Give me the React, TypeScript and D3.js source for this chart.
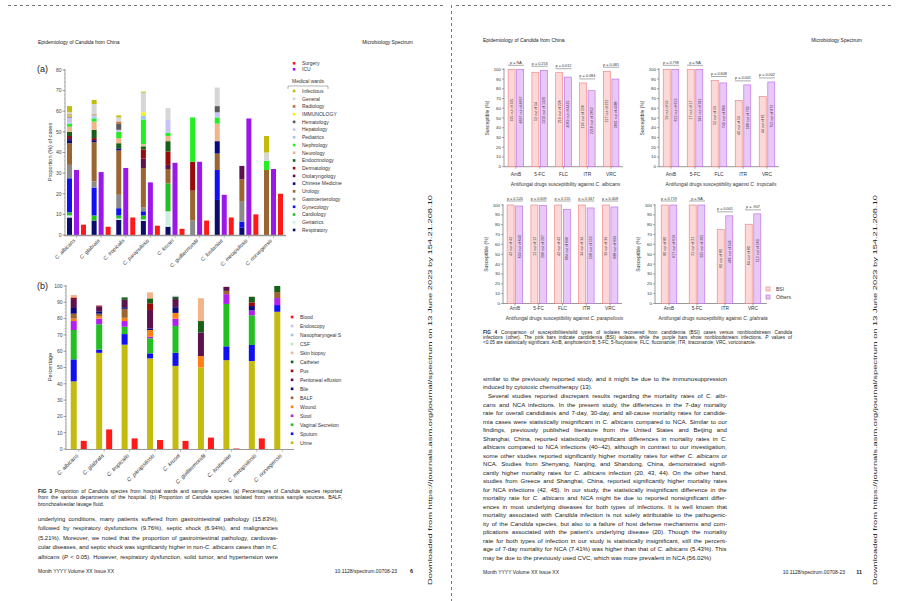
import React from 'react';
import * as d3 from 'd3';

const F = "'Liberation Sans', Arial, sans-serif";

// ---------------- Panel (a): hospital wards ----------------
const species = ['C. albicans', 'C. glabrata', 'C. tropicalis', 'C. parapsilosis', 'C. krusei', 'C. guilliermondii', 'C. lusitaniae', 'C. metapsilosis', 'C. norvegensis'];

const wardNames = ['Infectious', 'General', 'Radiology', 'IMMUNOLOGY', 'Hematology', 'Hepatology', 'Pediatrics', 'Nephrology', 'Neurology', 'Endocrinology', 'Dermatology', 'Otolaryngology', 'Chinese Medicine', 'Urology', 'Gastroenterology', 'Gynecology', 'Cardiology', 'Geriatrics', 'Respiratory'];
const wardColors = ['#c4bb10', '#d6d6d6', '#cc6633', '#f5f500', '#5a5a5a', '#c4c4f6', '#9cc8f0', '#22ee22', '#f2b489', '#17601a', '#9a0a0a', '#5c124f', '#0a0a80', '#9a6530', '#8a8a8a', '#1010f0', '#22c022', '#cdeee0', '#0c0c6a'];

const infectious = [3, 2, 1, 0.5, 0, 0, 0, 0, 8];
const general = [1, 5, 2, 9.5, 5.5, 0, 9, 0, 4];
const radiology = [0.5, 0.5, 1, 0, 0, 0, 0, 0, 0];
const immunology = [0.5, 0, 0, 1.5, 0, 0, 0, 0, 0];
const hematology = [0.5, 0, 3, 0, 0, 0, 3, 0, 0];
const hepatology = [2.5, 0.5, 1, 0, 6.5, 0, 2.5, 0, 0];
const pediatrics = [0.5, 1, 0, 2, 0, 0, 0, 0, 0];
const nephrology = [1.5, 1.5, 3, 12, 1.5, 21.5, 3, 0, 4.5];
const neurology = [2.5, 4, 2.5, 1, 2.5, 0, 8.5, 0, 0];
const endocrinology = [2, 4, 2.5, 1.5, 5, 0, 0, 0, 0];
const dermatology = [1, 1, 0, 4.5, 6.5, 14, 0, 0, 0];
const otolaryngology = [1, 0, 0, 4.5, 2, 0, 0, 6.5, 0];
const chineseMedicine = [1.5, 1, 1, 0, 0, 0, 6, 0, 0];
const urology = [10.5, 19, 21.5, 19, 7, 14.5, 8, 10.5, 31.5];
const gastroenterology = [6.5, 3, 6.5, 2, 0, 7, 0, 10, 0];
const gynecology = [16.5, 13.5, 3.5, 2, 0, 0, 14.5, 3, 0];
const cardiology = [1.5, 2.5, 1.5, 2, 13.5, 0, 0, 0, 0];
const geriatrics = [1, 0, 0.7, 0.7, 7.5, 0, 0, 0, 0];
const respiratory = [8.5, 7, 7.3, 6.8, 4, 0, 17, 3.5, 0];
const wardSeries = [infectious, general, radiology, immunology, hematology, hepatology, pediatrics, nephrology, neurology, endocrinology, dermatology, otolaryngology, chineseMedicine, urology, gastroenterology, gynecology, cardiology, geriatrics, respiratory];

const icu = [31.5, 30.5, 32.5, 25.5, 35, 35.5, 19.5, 56.5, 32];
const surgery = [5, 4, 8.5, 4.5, 3, 7, 8.5, 10, 20];
const ticksA = [0, 10, 20, 30, 40, 50, 60, 70, 80];

// ---------------- Panel (b): sample sources ----------------
const sampleNames = ['Blood', 'Endoscopy', 'Nasopharyngeal S', 'CSF', 'Skin biopsy', 'Catheter', 'Pus', 'Peritoneal effusion', 'Bile', 'BALF', 'Wound', 'Stool', 'Vaginal Secretion', 'Sputum', 'Urine'];
const sampleColors = ['#ff1010', '#c4c4f6', '#9cc8f0', '#a6f5a6', '#f2b489', '#17601a', '#9a0a0a', '#5c124f', '#0a0a80', '#9a6530', '#ff8010', '#b020f0', '#22c022', '#1010f0', '#c4bb10'];

const blood = [5, 12, 6.5, 5.5, 5, 7, 0.3, 6.5, 0];
const endoscopy = [0, 0, 0, 0, 0.5, 0, 0, 0, 0];
const nasopharyngeal = [0, 0, 0, 0, 0, 0, 0, 0, 0];
const csf = [0, 0, 0, 0, 0, 0, 0, 0, 0];
const skinBiopsy = [1.5, 0, 0, 3.7, 0, 14, 0, 0, 0];
const catheter = [0, 0, 1.5, 3, 1.5, 7, 0, 3.4, 3.7];
const pus = [1, 0.5, 0, 4.1, 0, 0, 0, 2.3, 0];
const peritoneal = [5.5, 3, 4.5, 11.3, 5, 14.5, 2.5, 0, 0];
const bile = [3.5, 1.5, 1, 1, 3.5, 0, 0, 2.7, 0];
const balf = [3, 1.5, 5.5, 0, 0, 0, 2, 0, 3.7];
const wound = [1.5, 1.5, 2, 4.1, 3.5, 7, 0, 0, 0];
const stool = [5.5, 3.5, 3.5, 1, 4.5, 0, 6, 3, 4.3];
const vaginal = [18, 15.5, 4.5, 9.2, 16.5, 0, 26, 18.2, 0];
const sputum = [13.5, 2, 6.5, 3.1, 8, 0, 8.5, 9.8, 4.1];
const urine = [41.5, 59, 64, 55.6, 51, 50, 54.5, 54, 84.2];
const sampleSeries = [blood, endoscopy, nasopharyngeal, csf, skinBiopsy, catheter, pus, peritoneal, bile, balf, wound, stool, vaginal, sputum, urine];
const ticksB = [0, 10, 20, 30, 40, 50, 60, 70, 80, 90, 100];

// ---------------- Fig 4: susceptibility ----------------
const drugs = ['AmB', '5-FC', 'FLC', 'ITR', 'VRC'];
const drugsGlabrata = ['AmB', '5-FC', 'ITR', 'VRC'];
const ticksS = [0, 10, 20, 30, 40, 50, 60, 70, 80, 90, 100];

const albicansBSI = [100, 97, 96.5, 86, 98];
const albicansOthers = [100, 99, 92, 78, 90];
const albicansP = ['p = NA', 'p = 0.253', 'p = 0.012', 'p = 0.084', 'p = 0.081'];
const albicansBSILab = ['335 out of 335', '52 out of 54', '219 out of 226', '195 out of 226', '217 out of 221'];
const albicansOthLab = ['4697 out of 4697', '1310 out of 1320', '4062 out of 4425', '2218 out of 2852', '3891 out of 4388'];

const tropicalisBSI = [100, 100, 88.5, 68, 72];
const tropicalisOthers = [100, 100, 86, 84, 87];
const tropicalisP = ['p = 0.798', 'p = NA', 'p = 0.608', 'p = 0.001', 'p = 0.002'];
const tropicalisBSILab = ['59 out of 59', '17 out of 17', '52 out of 59', '40 out of 59', '44 out of 61'];
const tropicalisOthLab = ['612 out of 613', '241 out of 241', '749 out of 869', '588 out of 702', '752 out of 872'];

const parapsilosisBSI = [100, 100, 100, 100, 100];
const parapsilosisOthers = [99, 99.5, 95.5, 97, 98];
const parapsilosisP = ['p = 0.520', 'p = 0.609', 'p = 0.155', 'p = 0.347', 'p = 0.408'];
const parapsilosisBSILab = ['42 out of 42', '12 out of 12', '42 out of 42', '34 out of 34', '39 out of 39'];
const parapsilosisOthLab = ['634 out of 640', '206 out of 207', '664 out of 696', '538 out of 552', '688 out of 699'];

const glabrataBSI = [100, 100, 75, 80.5];
const glabrataOthers = [100, 100, 89, 91];
const glabrataP = ['p = 0.719', 'p = NA', 'p = 0.001', 'p = .907'];
const glabrataBSILab = ['80 out of 80', '21 out of 21', '60 out of 80', '64 out of 80'];
const glabrataOthLab = ['617 out of 619', '205 out of 205', '485 out of 545', '512 out of 563'];

// ---------------- Text ----------------
const captionLeft = [
  '**FIG 3** Proportion of *Candida* species from hospital wards and sample sources. (a) Percentages of *Candida* species reported',
  'from the various departments of the hospital. (b) Proportion of *Candida* species isolated from various sample sources. BALF,',
  'bronchoalveolar lavage fluid.',
];
const bodyLeft = [
  'underlying conditions, many patients suffered from gastrointestinal pathology (15.83%),',
  'followed by respiratory dysfunctions (9.76%), septic shock (6.94%), and malignancies',
  '(5.21%). Moreover, we noted that the proportion of gastrointestinal pathology, cardiovas-',
  'cular diseases, and septic shock was significantly higher in non-*C. albicans* cases than in *C.*',
  '*albicans* (*P* < 0.05). However, respiratory dysfunction, solid tumor, and hypertension were',
];
const captionRight = [
  '**FIG 4** Comparison of susceptibilities/wild types of isolates recovered from candidemia (BSI) cases versus nonbloodstream *Candida*',
  'infections (other). The pink bars indicate candidemia (BSI) isolates, while the purple bars show nonbloodstream infections. *P* values of',
  '<0.05 are statistically significant. AmB, amphotericin B; 5-FC, 5-flucytosine; FLC, fluconazole; ITR, itraconazole; VRC, voriconazole.',
];
const bodyRight = [
  'similar to the previously reported study, and it might be due to the immunosuppression',
  'induced by cytotoxic chemotherapy (13).',
  'Several studies reported discrepant results regarding the mortality rates of *C. albi-*',
  '*cans* and NCA infections. In the present study, the differences in the 7-day mortality',
  'rate for overall candidiasis and 7-day, 30-day, and all-cause mortality rates for candide-',
  'mia cases were statistically insignificant in *C. albicans* compared to NCA. Similar to our',
  'findings, previously published literature from the United States and Beijing and',
  'Shanghai, China, reported statistically insignificant differences in mortality rates in *C.*',
  '*albicans* compared to NCA infections (40–42), although in contrast to our investigation,',
  'some other studies reported significantly higher mortality rates for either *C. albicans* or',
  'NCA. Studies from Shenyang, Nanjing, and Shandong, China, demonstrated signifi-',
  'cantly higher mortality rates for *C. albicans* infection (20, 43, 44). On the other hand,',
  'studies from Greece and Shanghai, China, reported significantly higher mortality rates',
  'for NCA infections (42, 45). In our study, the statistically insignificant difference in the',
  'mortality rate for *C. albicans* and NCA might be due to reported nonsignificant differ-',
  'ences in most underlying diseases for both types of infections. It is well known that',
  'mortality associated with *Candida* infection is not solely attributable to the pathogenic-',
  'ity of the *Candida* species, but also to a failure of host defense mechanisms and com-',
  'plications associated with the patient\u2019s underlying disease (20). Though the mortality',
  'rate for both types of infection in our study is statistically insignificant, still the percent-',
  'age of 7-day mortality for NCA (7.41%) was higher than that of *C. albicans* (5.43%). This',
  'may be due to the previously used CVC, which was more prevalent in NCA (56.02%)',
];
const downloadNote = 'Downloaded from https://journals.asm.org/journal/spectrum on 13 June 2023 by 154.21.208.10';

// ---------- rich text helpers: **bold**, *italic* ----------
type Seg = { t: string; i: boolean; b: boolean };
function segs(s: string): Seg[] {
  const out: Seg[] = [];
  const re = /(\*\*[^*]+\*\*|\*[^*]+\*)/g;
  let last = 0;
  let m;
  while ((m = re.exec(s)) !== null) {
    if (m.index > last) out.push({ t: s.slice(last, m.index), i: false, b: false });
    const t = m[0];
    if (t.startsWith('**')) out.push({ t: t.slice(2, -2), i: false, b: true });
    else out.push({ t: t.slice(1, -1), i: true, b: false });
    last = m.index + t.length;
  }
  if (last < s.length) out.push({ t: s.slice(last), i: false, b: false });
  return out;
}

let _ctx: any = null;
function measure(sg: Seg[], size: number) {
  if (typeof document === 'undefined') return 0;
  if (!_ctx) _ctx = document.createElement('canvas').getContext('2d');
  let w = 0;
  sg.forEach(s => {
    _ctx.font = `${s.i ? 'italic ' : ''}${s.b ? 'bold ' : ''}${size}px ${F}`;
    w += _ctx.measureText(s.t).width;
  });
  return w;
}

// justified line: widen word spacing, or shrink the font if the line is too long
function TLine({ x, y, s, size, w, fill = '#222' }: any) {
  const sg = segs(s);
  let ws = 0;
  let fs = size;
  if (w) {
    const spaces = (s.match(/ /g) || []).length;
    const nat = measure(sg, size);
    if (nat > 0) {
      if (nat > w) {
        fs = size * w / nat;
        ws = 0;
      } else if (spaces > 0) {
        ws = (w - nat) / spaces;
      }
    }
  }
  return (
    <text x={x} y={y} fontSize={fs} fontFamily={F} fill={fill} wordSpacing={ws} xmlSpace="preserve">
      {sg.map((g, k) => <tspan key={k} fontStyle={g.i ? 'italic' : undefined} fontWeight={g.b ? 'bold' : undefined}>{g.t}</tspan>)}
    </text>
  );
}

// ---------------- Panel (a) component ----------------
function PanelA() {
  const x = d3.scaleBand().domain(species).range([64.2, 285.8]);
  const y = d3.scaleLinear().domain([0, 80]).range([235, 70]);
  const keys = wardNames.slice().reverse();
  const rows = species.map((s, i) => {
    const o: any = { sp: s };
    wardNames.forEach((n, j) => { o[n] = wardSeries[j][i]; });
    return o;
  });
  const stacked = d3.stack().keys(keys)(rows);
  const colorOf = (n: string) => wardColors[wardNames.indexOf(n)];
  const cx = (s: string) => (x(s) as number) + x.bandwidth() / 2;
  const minor = d3.range(0, 81, 2);
  return (
    <g>
      <text x={37} y={72} fontSize={9} fontFamily={F} fill="#222">(a)</text>
      <line x1={65} x2={65} y1={69} y2={235} stroke="#777" strokeWidth={0.7} />
      {minor.map(t => <line key={'m' + t} x1={63.8} x2={65} y1={y(t)} y2={y(t)} stroke="#888" strokeWidth={0.4} />)}
      {ticksA.map(t => (
        <g key={t}>
          <line x1={62.5} x2={65} y1={y(t)} y2={y(t)} stroke="#666" strokeWidth={0.6} />
          <text x={61.5} y={y(t) + 1.8} fontSize={5} textAnchor="end" fontFamily={F} fill="#444">{t}</text>
        </g>
      ))}
      <text transform={`translate(51.5,152) rotate(-90)`} fontSize={5.6} textAnchor="middle" fontFamily={F} fill="#333">Proportion (%) of cases</text>
      {stacked.map(ser => ser.map((d, i) => (
        d[1] - d[0] > 0 ? <rect key={ser.key + i} x={cx(species[i]) - 9.5} width={5} y={y(d[1])} height={y(d[0]) - y(d[1])} fill={colorOf(ser.key as string)} /> : null
      )))}
      {icu.map((v, i) => <rect key={'icu' + i} x={cx(species[i]) - 2.5} width={5} y={y(v)} height={y(0) - y(v)} fill="#9a18e8" />)}
      {surgery.map((v, i) => <rect key={'sur' + i} x={cx(species[i]) + 4.5} width={5} y={y(v)} height={y(0) - y(v)} fill="#ff1a1a" />)}
      <line x1={64} x2={286} y1={235.5} y2={235.5} stroke="#999" strokeWidth={1.4} />
      {species.map(s => (
        <g key={s}>
          <line x1={cx(s)} x2={cx(s)} y1={235.5} y2={238} stroke="#888" strokeWidth={0.5} />
          <text transform={`translate(${cx(s) - 1},${241}) rotate(-45)`} fontSize={5.3} fontStyle="italic" textAnchor="end" fontFamily={F} fill="#333">{s}</text>
        </g>
      ))}
      <rect x={292.8} y={62} width={2.6} height={2.6} fill="#ff1a1a" />
      <text x={302} y={65.2} fontSize={5} fontFamily={F} fill="#333">Surgery</text>
      <rect x={292.8} y={68} width={2.6} height={2.6} fill="#9a18e8" />
      <text x={302} y={71.2} fontSize={5} fontFamily={F} fill="#333">ICU</text>
      <text x={308} y={82.5} fontSize={5} textAnchor="middle" fontFamily={F} fill="#333">Medical wards</text>
      <path d="M288,89 L288,86 L328,86 L328,89" fill="none" stroke="#666" strokeWidth={0.5} />
      {wardNames.map((n, i) => {
        const yy = 91 + i * 7.72;
        return (
          <g key={n}>
            <rect x={292.8} y={yy - 1.3} width={2.6} height={2.6} fill={wardColors[i]} />
            <text x={302} y={yy + 1.8} fontSize={5} fontFamily={F} fill="#333">{n}</text>
          </g>
        );
      })}
    </g>
  );
}

// ---------------- Panel (b) component ----------------
function PanelB() {
  const x = d3.scaleBand().domain(species).range([66, 295]);
  const y = d3.scaleLinear().domain([0, 100]).range([449, 286]);
  const stackNames = sampleNames.slice(1).reverse();
  const rows = species.map((s, i) => {
    const o: any = { sp: s };
    sampleNames.forEach((n, j) => { o[n] = sampleSeries[j][i]; });
    return o;
  });
  const stacked = d3.stack().keys(stackNames)(rows);
  const colorOf = (n: string) => sampleColors[sampleNames.indexOf(n)];
  const cx = (s: string) => (x(s) as number) + x.bandwidth() / 2;
  const minor = d3.range(0, 101, 2);
  return (
    <g>
      <text x={37} y={289} fontSize={9} fontFamily={F} fill="#222">(b)</text>
      <line x1={66} x2={66} y1={285} y2={449} stroke="#777" strokeWidth={0.7} />
      {minor.map(t => <line key={'m' + t} x1={64.8} x2={66} y1={y(t)} y2={y(t)} stroke="#888" strokeWidth={0.4} />)}
      {ticksB.map(t => (
        <g key={t}>
          <line x1={63.5} x2={66} y1={y(t)} y2={y(t)} stroke="#666" strokeWidth={0.6} />
          <text x={62.5} y={y(t) + 1.8} fontSize={5} textAnchor="end" fontFamily={F} fill="#444">{t}</text>
        </g>
      ))}
      <text transform={`translate(51.5,367) rotate(-90)`} fontSize={5.6} textAnchor="middle" fontFamily={F} fill="#333">Percentage</text>
      {stacked.map(ser => ser.map((d, i) => (
        d[1] - d[0] > 0 ? <rect key={ser.key + i} x={cx(species[i]) - 8} width={6} y={y(d[1])} height={y(d[0]) - y(d[1])} fill={colorOf(ser.key as string)} /> : null
      )))}
      {blood.map((v, i) => <rect key={'bl' + i} x={cx(species[i]) + 2} width={6} y={y(v)} height={y(0) - y(v)} fill="#ff1a1a" />)}
      <line x1={65.5} x2={294} y1={449.5} y2={449.5} stroke="#999" strokeWidth={1.2} />
      {species.map(s => (
        <g key={s}>
          <line x1={cx(s)} x2={cx(s)} y1={449.5} y2={452} stroke="#888" strokeWidth={0.5} />
          <text transform={`translate(${cx(s)},${456}) rotate(-45)`} fontSize={5.6} fontStyle="italic" textAnchor="end" fontFamily={F} fill="#333">{s}</text>
        </g>
      ))}
      {sampleNames.map((n, i) => {
        const yy = 317 + i * 8.98;
        return (
          <g key={n}>
            <rect x={290.8} y={yy - 1.3} width={2.6} height={2.6} fill={sampleColors[i]} />
            <text x={300} y={yy + 1.8} fontSize={5} fontFamily={F} fill="#333">{n}</text>
          </g>
        );
      })}
    </g>
  );
}

// ---------------- Fig 4 chart component ----------------
function SusChart({ x0, x1, y0, y100, cats, bsi, oth, pv, bsiLab, othLab, sp, labY, titleY }: any) {
  const x = d3.scaleBand().domain(cats).range([x0, x1]);
  const y = d3.scaleLinear().domain([0, 100]).range([y0, y100]);
  const cx = (c: string) => (x(c) as number) + x.bandwidth() / 2;
  const bw = 7;
  return (
    <g>
      <line x1={x0} x2={x0} y1={y100 - 1} y2={y0} stroke="#555" strokeWidth={0.6} />
      {ticksS.map(t => (
        <g key={t}>
          <line x1={x0 - 2} x2={x0} y1={y(t)} y2={y(t)} stroke="#555" strokeWidth={0.5} />
          <text x={x0 - 3} y={y(t) + 1.5} fontSize={4.4} textAnchor="end" fontFamily={F} fill="#333">{t}</text>
        </g>
      ))}
      <text transform={`translate(${x0 - 15},${(y0 + y100) / 2}) rotate(-90)`} fontSize={5} textAnchor="middle" fontFamily={F} fill="#333">Susceptible (%)</text>
      <line x1={x0} x2={x1} y1={y0} y2={y0} stroke="#555" strokeWidth={0.6} />
      {cats.map((c: string, i: number) => {
        const c0 = cx(c);
        const top = y(Math.max(bsi[i], oth[i]));
        const ly = top - 4;
        return (
          <g key={c}>
            <line x1={c0} x2={c0} y1={y0} y2={y0 + 2} stroke="#555" strokeWidth={0.5} />
            <rect x={c0 - bw - 0.8} y={y(bsi[i])} width={bw} height={y0 - y(bsi[i])} fill="#fdd8d8" stroke="#f07a7a" strokeWidth={0.6} />
            <rect x={c0 + 0.8} y={y(oth[i])} width={bw} height={y0 - y(oth[i])} fill="#e8c8f6" stroke="#b866e6" strokeWidth={0.6} />
            <text transform={`translate(${c0 - bw / 2 - 0.8 + 1.3},${(y(bsi[i]) + y0) / 2 - 8}) rotate(-90)`} fontSize={3.6} textAnchor="middle" fontFamily={F} fill="#333">{bsiLab[i]}</text>
            <text transform={`translate(${c0 + bw / 2 + 0.8 + 1.3},${(y(oth[i]) + y0) / 2 - 8}) rotate(-90)`} fontSize={3.6} textAnchor="middle" fontFamily={F} fill="#333">{othLab[i]}</text>
            <line x1={c0 - bw - 1} x2={c0 + bw + 1} y1={ly} y2={ly} stroke="#888" strokeWidth={0.7} />
            <text x={c0} y={ly - 1.5} fontSize={3.8} textAnchor="middle" fontFamily={F} fill="#333">{pv[i]}</text>
            <text x={c0} y={labY} fontSize={4.8} textAnchor="middle" fontFamily={F} fill="#333">{c}</text>
          </g>
        );
      })}
      <text x={(x0 + x1) / 2 + 2} y={titleY} fontSize={5} textAnchor="middle" fontFamily={F} fill="#333">
        Antifungal drugs susceptibility against <tspan fontStyle="italic">{sp}</tspan>
      </text>
    </g>
  );
}

export default function App() {
  const dash = '3,3';
  return (
    <svg width={900} height={601} viewBox="0 0 900 601" style={{ position: 'absolute', left: 0, top: 0, background: '#fff' }}>
      <rect x={0} y={0} width={900} height={601} fill="#fff" />
      <line x1={8} x2={446} y1={5.5} y2={5.5} stroke="#555" strokeWidth={0.8} strokeDasharray={dash} />
      <line x1={456} x2={893} y1={5.5} y2={5.5} stroke="#555" strokeWidth={0.8} strokeDasharray={dash} />
      <line x1={451.5} x2={451.5} y1={5} y2={601} stroke="#555" strokeWidth={0.8} strokeDasharray={dash} />

      {/* ---------------- Left page ---------------- */}
      <TLine x={38} y={43.5} s="Epidemiology of *Candida* from China" size={5} />
      <text x={413} y={43.5} fontSize={5} textAnchor="end" fontFamily={F} fill="#222">Microbiology Spectrum</text>
      <PanelA />
      <PanelB />
      {captionLeft.map((s, i) => <TLine key={i} x={38} y={492.5 + i * 6.7} s={s} size={5.2} w={i < 2 ? 304 : undefined} />)}
      {bodyLeft.map((s, i) => <TLine key={i} x={38} y={520.5 + i * 9.5} s={s} size={5.9} w={240} />)}
      <text x={38} y={573} fontSize={5} fontFamily={F} fill="#222">Month YYYY Volume XX Issue XX</text>
      <text x={397} y={573} fontSize={5} textAnchor="end" fontFamily={F} fill="#222">10.1128/spectrum.00708-23</text>
      <text x={413} y={573} fontSize={5.5} fontWeight="bold" textAnchor="end" fontFamily={F} fill="#222">6</text>
      <text transform="translate(432,585) rotate(-90)" fontSize={6} fontFamily={F} fill="#222" textLength={390} lengthAdjust="spacingAndGlyphs">{downloadNote}</text>

      {/* ---------------- Right page ---------------- */}
      <TLine x={483} y={41.5} s="Epidemiology of *Candida* from China" size={5} />
      <text x={862} y={41.5} fontSize={5} textAnchor="end" fontFamily={F} fill="#222">Microbiology Spectrum</text>

      <SusChart x0={504} x1={623} y0={166.7} y100={69.3} cats={drugs} bsi={albicansBSI} oth={albicansOthers} pv={albicansP} bsiLab={albicansBSILab} othLab={albicansOthLab} sp="C. albicans" labY={176} titleY={186} />
      <SusChart x0={659} x1={779} y0={166.7} y100={69.3} cats={drugs} bsi={tropicalisBSI} oth={tropicalisOthers} pv={tropicalisP} bsiLab={tropicalisBSILab} othLab={tropicalisOthLab} sp="C. tropicalis" labY={176} titleY={186} />
      <SusChart x0={503} x1={622} y0={303.5} y100={205} cats={drugs} bsi={parapsilosisBSI} oth={parapsilosisOthers} pv={parapsilosisP} bsiLab={parapsilosisBSILab} othLab={parapsilosisOthLab} sp="C. parapsilosis" labY={310} titleY={319.5} />
      <SusChart x0={655} x1={767} y0={303.5} y100={205} cats={drugsGlabrata} bsi={glabrataBSI} oth={glabrataOthers} pv={glabrataP} bsiLab={glabrataBSILab} othLab={glabrataOthLab} sp="C. glabrata" labY={310} titleY={319.5} />

      <rect x={766} y={287} width={4} height={4} fill="#fdd8d8" stroke="#f07a7a" strokeWidth={0.6} />
      <text x={776} y={290.8} fontSize={5} fontFamily={F} fill="#333">BSI</text>
      <rect x={766} y={295} width={4} height={4} fill="#e8c8f6" stroke="#b866e6" strokeWidth={0.6} />
      <text x={776} y={298.8} fontSize={5} fontFamily={F} fill="#333">Others</text>

      {captionRight.map((s, i) => <TLine key={i} x={483} y={333.5 + i * 5.2} s={s} size={4.7} w={i < 2 ? 309 : undefined} />)}
      {bodyRight.map((s, i) => {
        const y = i < 2 ? 380.8 + i * 8.2 : 398.3 + (i - 2) * 8.5;
        const indent = i === 2 ? 5 : 0;
        const justify = i !== 1 && i !== bodyRight.length - 1 ? 244 - indent : undefined;
        return <TLine key={i} x={483 + indent} y={y} s={s} size={6.1} w={justify} />;
      })}
      <text x={483} y={574} fontSize={5} fontFamily={F} fill="#222">Month YYYY Volume XX Issue XX</text>
      <text x={845} y={574} fontSize={5} textAnchor="end" fontFamily={F} fill="#222">10.1128/spectrum.00708-23</text>
      <text x={862} y={574} fontSize={5.5} fontWeight="bold" textAnchor="end" fontFamily={F} fill="#222">11</text>
      <text transform="translate(877,585) rotate(-90)" fontSize={6} fontFamily={F} fill="#222" textLength={390} lengthAdjust="spacingAndGlyphs">{downloadNote}</text>
    </svg>
  );
}
